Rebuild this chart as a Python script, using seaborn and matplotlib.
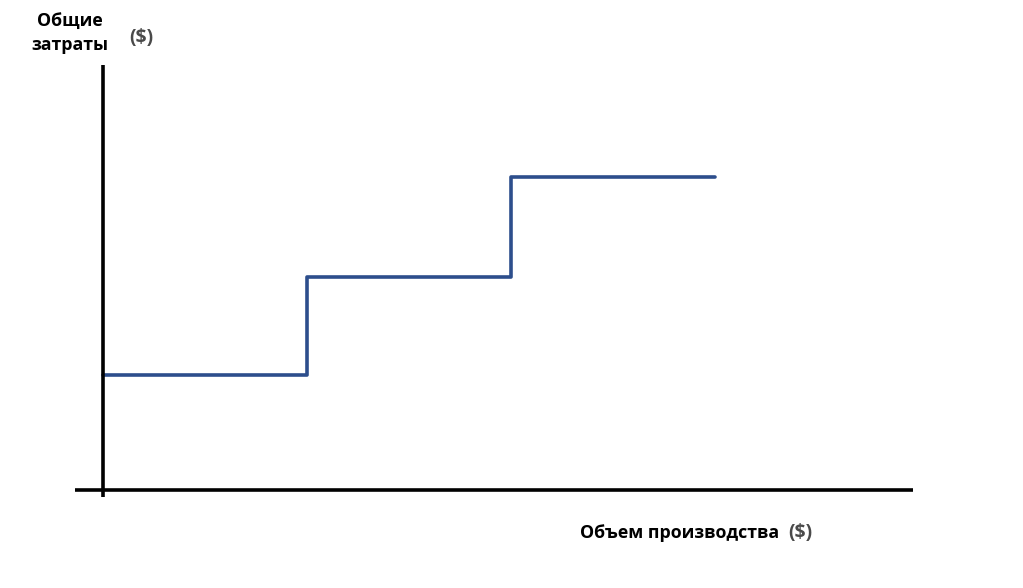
import numpy as np
import pandas as pd
import matplotlib
matplotlib.use("Agg")
import matplotlib.pyplot as plt
import seaborn as sns

sns.set_style("white")
plt.rcParams['font.family'] = ['Open Sans', 'DejaVu Sans']

# Step cost function: volume breakpoints and total cost levels
volume = [0, 2, 4, 6]
total_cost = [1.15, 2.13, 3.13, 3.13]
y_label = "Общие\nзатраты"
x_label = "Объем производства"
unit = "($)"

df = pd.DataFrame({"volume": volume, "cost": total_cost})

fig = plt.figure(figsize=(10.23, 5.88), dpi=100)
ax = fig.add_axes([0, 0, 1, 1])

sns.lineplot(data=df, x="volume", y="cost", drawstyle="steps-post",
             color="#2d4e8c", linewidth=2.6, ax=ax)

# hand-drawn style axes
ax.plot([0, 0], [-0.07, 4.25], color="black", lw=2.6, solid_capstyle="butt")
ax.plot([-0.27, 7.94], [0, 0], color="black", lw=2.6, solid_capstyle="butt")

ax.set_xlim(-1.01, 9.02)
ax.set_ylim(-0.98, 4.90)
ax.axis("off")

fig.text(70 / 1023, 1 - 33 / 588, y_label, ha="center", va="center",
         fontsize=12.8, fontweight="bold", linespacing=1.5, color="black")
fig.text(141 / 1023, 1 - 38 / 588, unit, ha="center", va="center",
         fontsize=14, fontweight="bold", color="#4a4a4a")
fig.text(680 / 1023, 1 - 533 / 588, x_label, ha="center", va="center",
         fontsize=12.8, fontweight="bold", color="black")
fig.text(800 / 1023, 1 - 533 / 588, unit, ha="center", va="center",
         fontsize=14, fontweight="bold", color="#4a4a4a")

fig.savefig("out.png", dpi=100)
